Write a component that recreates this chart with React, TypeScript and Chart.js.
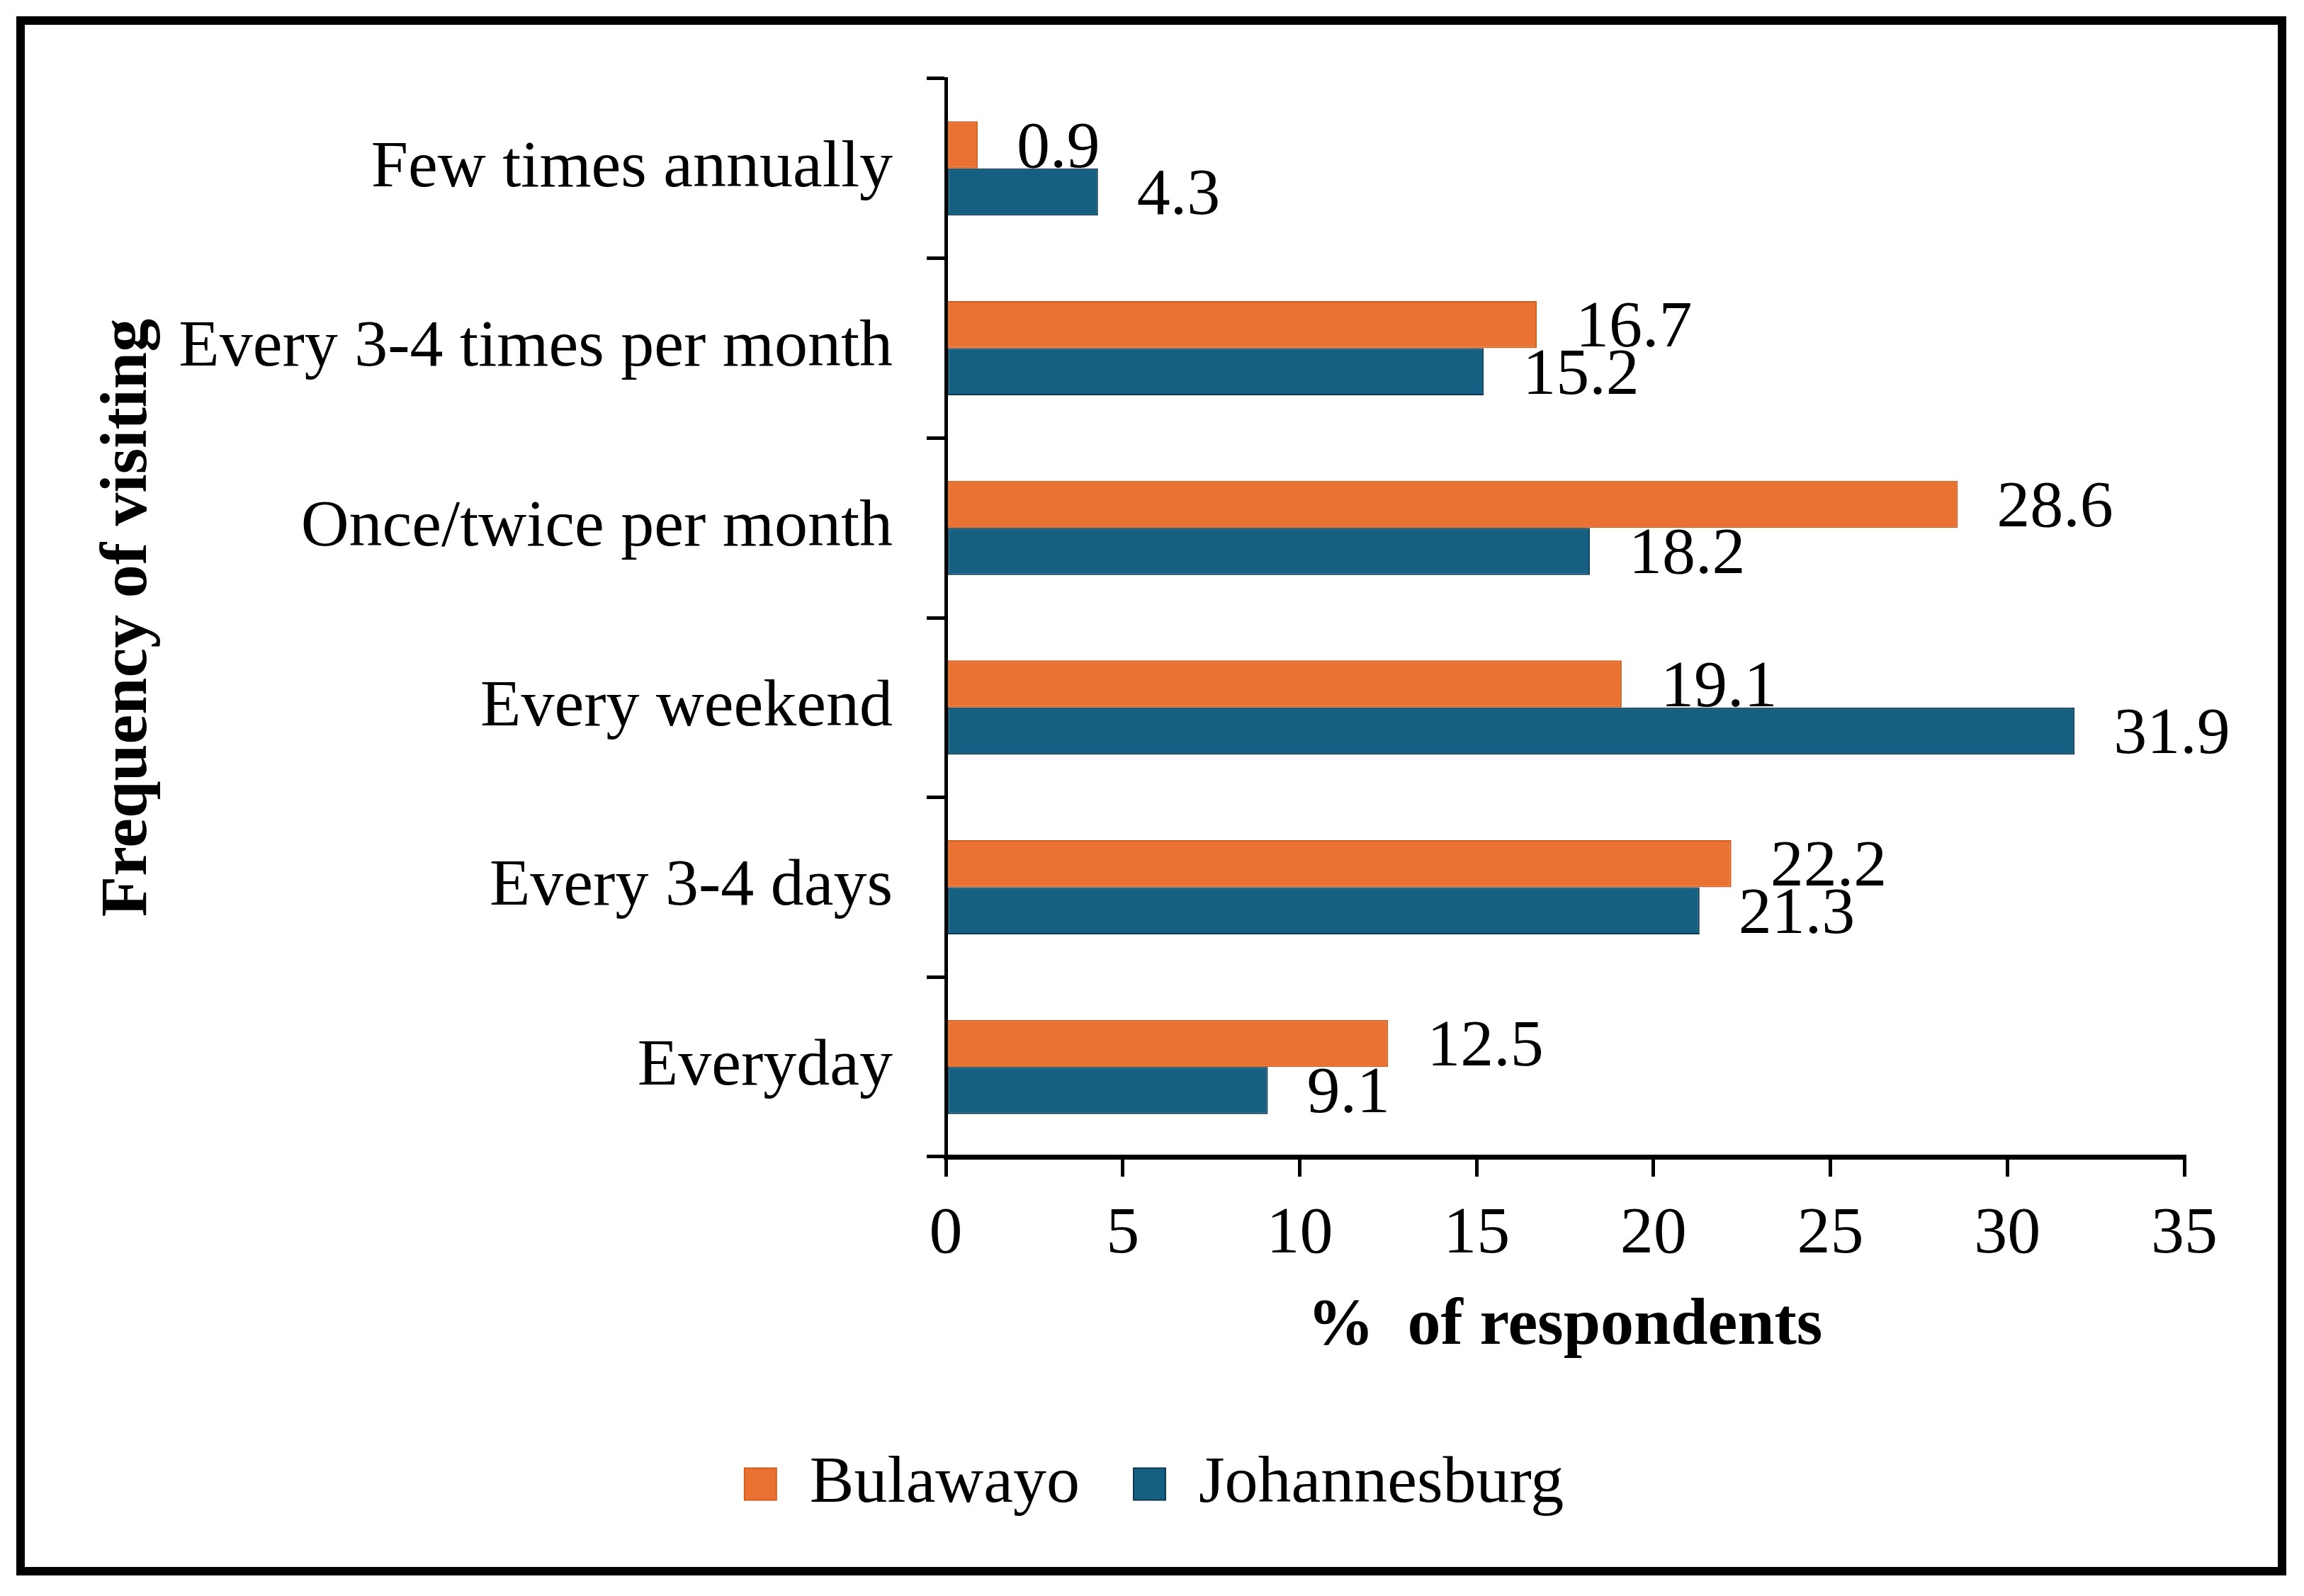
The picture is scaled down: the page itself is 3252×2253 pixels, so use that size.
import React, { useEffect, useRef } from 'react';
import { Chart, registerables } from 'chart.js';

Chart.register(...registerables);

// data
const categories = [
    'Few times annually',
    'Every 3-4 times per month',
    'Once/twice per month',
    'Every weekend',
    'Every 3-4 days',
    'Everyday',
];
const bulawayo = [0.9, 16.7, 28.6, 19.1, 22.2, 12.5];
const johannesburg = [4.3, 15.2, 18.2, 31.9, 21.3, 9.1];
const seriesNames = ['Bulawayo', 'Johannesburg'];
const xMin = 0;
const xMax = 35;
const xStep = 5;

const FONT = "'Liberation Serif', 'Times New Roman', serif";
const FONT_SIZE = 94;

// value labels at the end of each bar
const valueLabels = {
    id: 'valueLabels',
    afterDatasetsDraw(chart: any) {
        const ctx = chart.ctx;
        ctx.save();
        ctx.font = `${FONT_SIZE}px ${FONT}`;
        ctx.fillStyle = '#000';
        ctx.textAlign = 'left';
        ctx.textBaseline = 'alphabetic';
        chart.data.datasets.forEach((ds: any, i: number) => {
            const meta = chart.getDatasetMeta(i);
            meta.data.forEach((bar: any, j: number) => {
                const v = ds.data[j] as number;
                ctx.fillText(v.toFixed(1), bar.x + 55, bar.y + 31);
            });
        });
        ctx.restore();
    },
};

const BarChart: React.FC = () => {
    const canvas = useRef<HTMLCanvasElement | null>(null);
    const chartRef = useRef<Chart | null>(null);

    useEffect(() => {
        const el = canvas.current;
        if (!el) return;
        if (chartRef.current) chartRef.current.destroy();

        Chart.defaults.font.family = FONT;
        Chart.defaults.font.size = FONT_SIZE;
        Chart.defaults.color = '#000';

        chartRef.current = new Chart(el, {
            type: 'bar',
            data: {
                labels: categories,
                datasets: [
                    {
                        label: seriesNames[0],
                        data: bulawayo,
                        backgroundColor: '#E97132',
                        borderColor: '#D25E1E',
                        borderWidth: 2,
                        borderSkipped: false,
                    },
                    {
                        label: seriesNames[1],
                        data: johannesburg,
                        backgroundColor: '#156082',
                        borderColor: '#0B3A53',
                        borderWidth: 2,
                        borderSkipped: false,
                    },
                ],
            },
            options: {
                indexAxis: 'y',
                animation: false,
                responsive: true,
                maintainAspectRatio: false,
                devicePixelRatio: 1,
                layout: {
                    // left padding also nudges the centred legend to the right
                    padding: { top: 76, right: 132, left: 140, bottom: 60 },
                },
                datasets: {
                    bar: {
                        categoryPercentage: 0.524,
                        barPercentage: 1.0,
                    },
                },
                scales: {
                    x: {
                        type: 'linear',
                        min: xMin,
                        max: xMax,
                        ticks: {
                            stepSize: xStep,
                            padding: 26,
                            color: '#000',
                            font: { size: FONT_SIZE },
                        },
                        grid: {
                            drawOnChartArea: false,
                            drawTicks: true,
                            tickLength: 28,
                            color: '#000',
                            lineWidth: 5,
                        },
                        border: { display: true, color: '#000', width: 7 },
                        title: {
                            display: true,
                            text: '%  of respondents',
                            color: '#000',
                            font: { size: FONT_SIZE, weight: 'bold' },
                            padding: { top: 0, bottom: 43 },
                        },
                        afterFit: (scale: any) => {
                            scale.height = 339;
                        },
                    },
                    y: {
                        type: 'category',
                        offset: true,
                        ticks: {
                            padding: 48,
                            color: '#000',
                            font: { size: FONT_SIZE },
                        },
                        grid: {
                            offset: true,
                            drawOnChartArea: false,
                            drawTicks: true,
                            tickLength: 27,
                            color: '#000',
                            lineWidth: 5,
                        },
                        border: { display: true, color: '#000', width: 5 },
                        title: {
                            display: true,
                            text: 'Frequency of visiting',
                            color: '#000',
                            font: { size: FONT_SIZE, weight: 'bold' },
                            padding: { top: -50, bottom: 0 },
                        },
                        afterFit: (scale: any) => {
                            scale.width = 1160;
                            scale.paddingTop = 0;
                            scale.paddingBottom = 0;
                        },
                    },
                },
                plugins: {
                    legend: {
                        display: true,
                        position: 'bottom',
                        labels: {
                            boxWidth: 45,
                            boxHeight: 45,
                            padding: 76,
                            color: '#000',
                            font: { size: FONT_SIZE },
                        },
                    },
                    tooltip: { enabled: false },
                    title: { display: false },
                },
            },
            plugins: [valueLabels],
        });

        return () => {
            chartRef.current?.destroy();
            chartRef.current = null;
        };
    }, []);

    return (
        <div
            style={{
                position: 'absolute',
                left: 23,
                top: 23,
                width: 3204,
                height: 2201,
                border: '12px solid #000',
                boxSizing: 'border-box',
                background: '#fff',
            }}
        >
            <div style={{ position: 'relative', width: 3180, height: 2177 }}>
                <canvas ref={canvas}></canvas>
            </div>
        </div>
    );
};

export default function App() {
    return <BarChart />;
}
